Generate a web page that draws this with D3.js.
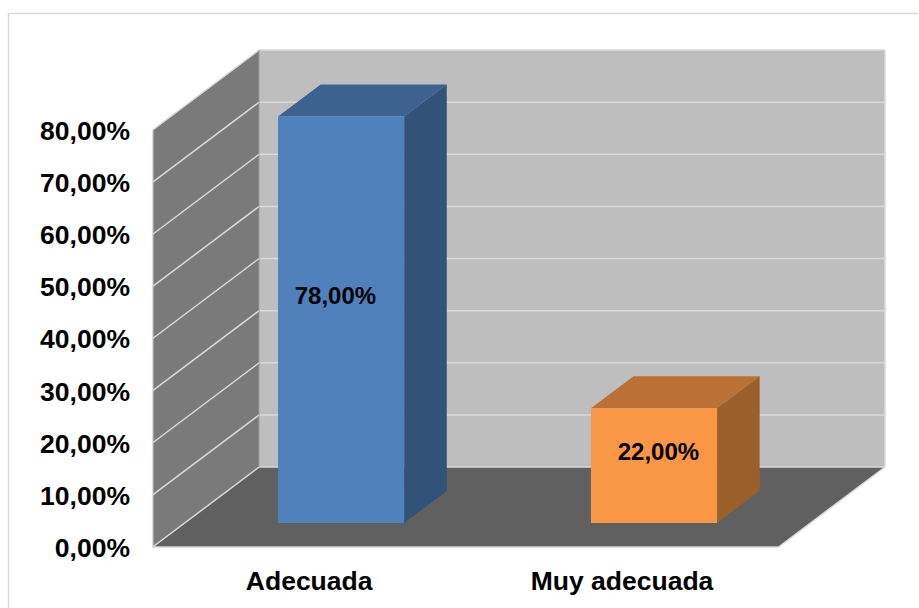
<!DOCTYPE html>
<html>
<head>
<meta charset="utf-8">
<script src="https://cdn.jsdelivr.net/npm/d3@7/dist/d3.min.js"></script>
<style>
  html, body { margin: 0; background: #fff; overflow: hidden; }
  svg { display: block; }
  text { font-family: "Liberation Sans", Arial, sans-serif; font-weight: bold; fill: #000; }
</style>
</head>
<body>
<svg id="chart" width="919" height="608"></svg>
<script>
const categories = ['Adecuada', 'Muy adecuada']
const values = [78, 22]
const tickValues = [0, 10, 20, 30, 40, 50, 60, 70, 80]
const frontColors = ['#4f81bd', '#f99746']
const topColors = ['#3e628f', '#bb7135']
const sideColors = ['#32527a', '#9b5f2c']

const svg = d3.select('#chart')
const gridColor = '#d9d9d9'

// the box: front plane, and how far the back wall is pushed away from it
const plotLeft = 152.7
const plotRight = 778.5
const plotBottom = 547
const plotTop = 130
const depthX = 106.5
const depthY = -80

// bars stand 30% into the floor and take up 40% of its depth
const barStart = 0.3
const barDepth = 0.4

const x = d3.scaleBand().domain(categories).range([plotLeft, plotRight]).paddingInner(0.597).paddingOuter(0.2985)
const xLabel = d3.scaleBand().domain(categories).range([plotLeft, plotRight])
const y = d3.scaleLinear().domain([0, 80]).range([plotBottom, plotTop])

const pts = a => a.map(p => p.join(',')).join(' ')

// chart frame, runs off the bottom of the picture
svg.append('path')
  .attr('d', 'M8.5,608V13.5H918')
  .attr('fill', 'none')
  .attr('stroke', gridColor)
  .attr('stroke-width', 1.5)

// walls + floor
svg.append('polygon')
  .attr('points', pts([[plotLeft + depthX, y(80) + depthY], [plotRight + depthX, y(80) + depthY], [plotRight + depthX, y(0) + depthY], [plotLeft + depthX, y(0) + depthY]]))
  .attr('fill', '#bebebe')
svg.append('polygon')
  .attr('points', pts([[plotLeft, y(0)], [plotLeft, y(80)], [plotLeft + depthX, y(80) + depthY], [plotLeft + depthX, y(0) + depthY]]))
  .attr('fill', '#7a7a7a')
svg.append('polygon')
  .attr('points', pts([[plotLeft, y(0)], [plotLeft + depthX, y(0) + depthY], [plotRight + depthX, y(0) + depthY], [plotRight, y(0)]]))
  .attr('fill', '#606060')

// gridlines on side wall and back wall
svg.append('g').selectAll('polyline')
  .data(tickValues)
  .join('polyline')
  .attr('points', d => pts([[plotLeft, y(d)], [plotLeft + depthX, y(d) + depthY], [plotRight + depthX, y(d) + depthY]]))
  .attr('fill', 'none')
  .attr('stroke', gridColor)
  .attr('stroke-width', 1.5)

// edges of the box
svg.append('path')
  .attr('d', `M${plotLeft},${y(80)}V${y(0)}H${plotRight}L${plotRight + depthX},${y(0) + depthY}V${y(80) + depthY}`)
  .attr('fill', 'none')
  .attr('stroke', gridColor)
  .attr('stroke-width', 1.5)
svg.append('line')
  .attr('x1', plotLeft + depthX).attr('x2', plotLeft + depthX)
  .attr('y1', y(80) + depthY).attr('y2', y(0) + depthY)
  .attr('stroke', '#a8a8a8')
  .attr('stroke-width', 1)

// bars
const barDx = depthX * barStart
const barDy = depthY * barStart
const sideDx = depthX * barDepth
const sideDy = depthY * barDepth

const bars = svg.append('g').selectAll('g')
  .data(categories)
  .join('g')
  .attr('transform', `translate(${barDx},${barDy})`)

bars.append('polygon')
  .attr('points', (d, i) => pts([[x(d), y(values[i])], [x(d) + sideDx, y(values[i]) + sideDy], [x(d) + x.bandwidth() + sideDx, y(values[i]) + sideDy], [x(d) + x.bandwidth(), y(values[i])]]))
  .attr('fill', (d, i) => topColors[i])
bars.append('polygon')
  .attr('points', (d, i) => pts([[x(d) + x.bandwidth(), y(0)], [x(d) + x.bandwidth(), y(values[i])], [x(d) + x.bandwidth() + sideDx, y(values[i]) + sideDy], [x(d) + x.bandwidth() + sideDx, y(0) + sideDy]]))
  .attr('fill', (d, i) => sideColors[i])
bars.append('rect')
  .attr('x', d => x(d))
  .attr('y', (d, i) => y(values[i]))
  .attr('width', x.bandwidth())
  .attr('height', (d, i) => y(0) - y(values[i]))
  .attr('fill', (d, i) => frontColors[i])

// data labels drift off the face centre with the bar height
bars.append('text')
  .attr('x', (d, i) => x(d) + x.bandwidth() / 2 + 8.4 - values[i] * 0.18)
  .attr('y', (d, i) => y(values[i] * 0.534 + 2))
  .attr('dy', '0.35em')
  .attr('text-anchor', 'middle')
  .attr('font-size', 24)
  .text((d, i) => d3.format('.2f')(values[i]).replace('.', ',') + '%')

// axes
const yAxis = d3.axisLeft(y)
  .tickValues(tickValues)
  .tickSize(0)
  .tickPadding(0)
  .tickFormat(d => d3.format('.2f')(d).replace('.', ',') + '%')
const yG = svg.append('g').attr('transform', 'translate(130,1)').call(yAxis)
yG.select('.domain').remove()
yG.attr('font-family', null).attr('font-size', null)
yG.selectAll('text').attr('font-size', 26.5)

const xAxis = d3.axisBottom(xLabel).tickSize(0).tickPadding(0)
const xG = svg.append('g').attr('transform', 'translate(0,571)').call(xAxis)
xG.select('.domain').remove()
xG.attr('font-family', null).attr('font-size', null)
xG.selectAll('text').attr('font-size', 26.5).attr('dy', '0.71em')
</script>
</body>
</html>
